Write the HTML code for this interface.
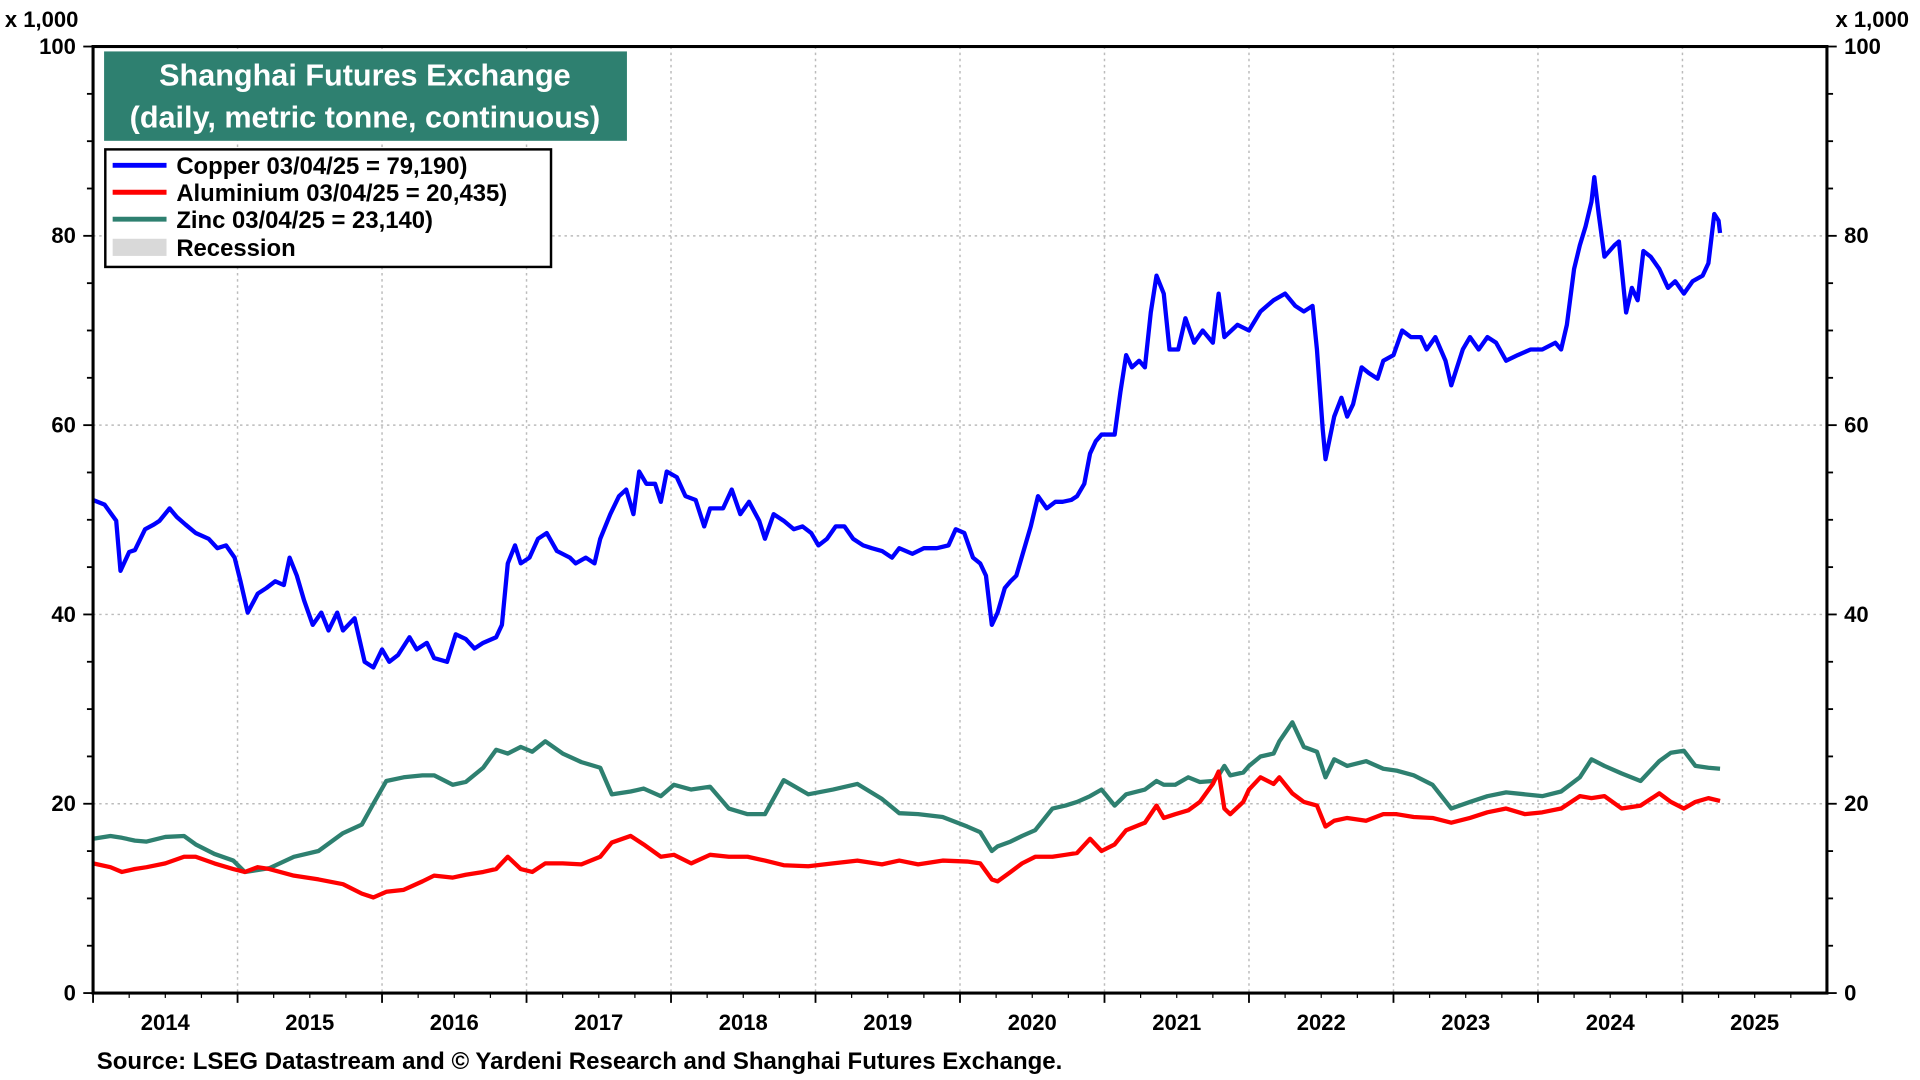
<!DOCTYPE html>
<html><head><meta charset="utf-8"><style>
html,body{margin:0;padding:0;background:#fff;}
svg{display:block;}
text{font-family:"Liberation Sans",Arial,sans-serif;font-weight:bold;fill:#000;}
</style></head><body>
<svg id="chart" width="1920" height="1080" viewBox="0 0 1568 882" preserveAspectRatio="none" xmlns="http://www.w3.org/2000/svg">
<rect x="0" y="0" width="1568" height="882" fill="#fff"/>
<g id="grid"></g>
<g id="series"></g>
<rect x="76" y="38" width="1416" height="773" fill="none" stroke="#000" stroke-width="2.5"/>
<g id="axes"></g>
<text x="4" y="22" font-size="18">x 1,000</text>
<text x="1499" y="22" font-size="18">x 1,000</text>
<g>
<rect x="85" y="42" width="427" height="73" fill="#2e8070"/>
<text x="298" y="70" font-size="25" text-anchor="middle" style="fill:#fff">Shanghai Futures Exchange</text>
<text x="298" y="104" font-size="25" text-anchor="middle" style="fill:#fff">(daily, metric tonne, continuous)</text>
</g>
<g>
<rect x="86" y="122" width="364" height="96" fill="#fff" stroke="#000" stroke-width="2"/>
<g><line x1="92" y1="135" x2="136" y2="135" stroke="#0000ff" stroke-width="4"/><text x="144" y="142" font-size="19.5">Copper 03/04/25 = 79,190)</text></g>
<g><line x1="92" y1="157" x2="136" y2="157" stroke="#ff0000" stroke-width="4"/><text x="144" y="164" font-size="19.5">Aluminium 03/04/25 = 20,435)</text></g>
<g><line x1="92" y1="179" x2="136" y2="179" stroke="#2e8070" stroke-width="4"/><text x="144" y="186" font-size="19.5">Zinc 03/04/25 = 23,140)</text></g>
<g><rect x="92" y="195" width="44" height="14" fill="#d9d9d9"/><text x="144" y="209" font-size="19.5">Recession</text></g>
</g>
<text x="79" y="873" font-size="19.6">Source: LSEG Datastream and © Yardeni Research and Shanghai Futures Exchange.</text>
</svg>
<script>
const yTicks=[0,20,40,60,80,100];
const yearLabels=[2014,2015,2016,2017,2018,2019,2020,2021,2022,2023,2024,2025];
const copperDates=[2014.00,2014.08,2014.16,2014.19,2014.25,2014.29,2014.36,2014.42,2014.46,2014.53,2014.58,2014.64,2014.71,2014.80,2014.86,2014.92,2014.98,2015.02,2015.07,2015.14,2015.20,2015.26,2015.32,2015.36,2015.41,2015.46,2015.52,2015.58,2015.63,2015.69,2015.73,2015.81,2015.88,2015.94,2016.00,2016.05,2016.11,2016.19,2016.24,2016.31,2016.36,2016.45,2016.51,2016.58,2016.64,2016.70,2016.79,2016.83,2016.87,2016.92,2016.96,2017.02,2017.08,2017.14,2017.21,2017.30,2017.34,2017.41,2017.47,2017.51,2017.58,2017.64,2017.69,2017.74,2017.78,2017.83,2017.89,2017.93,2017.97,2018.04,2018.10,2018.17,2018.23,2018.27,2018.36,2018.42,2018.48,2018.54,2018.61,2018.65,2018.71,2018.78,2018.85,2018.91,2018.97,2019.02,2019.08,2019.14,2019.20,2019.26,2019.33,2019.39,2019.46,2019.53,2019.58,2019.67,2019.75,2019.84,2019.92,2019.97,2020.03,2020.09,2020.14,2020.18,2020.22,2020.26,2020.31,2020.35,2020.39,2020.44,2020.49,2020.54,2020.60,2020.66,2020.71,2020.77,2020.81,2020.86,2020.90,2020.94,2020.98,2021.07,2021.11,2021.15,2021.19,2021.24,2021.28,2021.32,2021.36,2021.41,2021.45,2021.51,2021.56,2021.62,2021.68,2021.75,2021.79,2021.83,2021.92,2022.00,2022.08,2022.17,2022.25,2022.32,2022.38,2022.44,2022.47,2022.51,2022.53,2022.59,2022.64,2022.68,2022.72,2022.78,2022.83,2022.89,2022.93,2023.00,2023.06,2023.12,2023.19,2023.23,2023.29,2023.36,2023.40,2023.44,2023.48,2023.53,2023.59,2023.65,2023.71,2023.78,2023.86,2023.95,2024.03,2024.12,2024.16,2024.20,2024.25,2024.29,2024.33,2024.37,2024.39,2024.42,2024.46,2024.53,2024.56,2024.61,2024.65,2024.69,2024.73,2024.78,2024.84,2024.90,2024.95,2025.01,2025.07,2025.14,2025.18,2025.22,2025.25,2025.26];
const copperValues=[52.1,51.6,49.9,44.6,46.6,46.8,49.0,49.5,49.9,51.2,50.3,49.5,48.6,48.0,47.0,47.3,46.0,43.5,40.2,42.2,42.8,43.5,43.1,46.0,44.1,41.5,38.9,40.2,38.3,40.2,38.3,39.6,35.0,34.4,36.3,35.0,35.7,37.6,36.3,37.0,35.4,35.0,37.9,37.4,36.4,37.0,37.6,38.9,45.4,47.3,45.4,46.0,48.0,48.6,46.7,46.0,45.4,46.0,45.4,48.0,50.6,52.5,53.2,50.6,55.1,53.8,53.8,51.9,55.1,54.5,52.5,52.1,49.3,51.2,51.2,53.2,50.6,51.9,49.9,48.0,50.6,49.9,49.0,49.3,48.6,47.3,48.0,49.3,49.3,48.0,47.3,47.0,46.7,46.0,47.0,46.4,47.0,47.0,47.3,49.0,48.6,46.0,45.4,44.1,38.9,40.2,42.8,43.5,44.1,46.7,49.3,52.5,51.2,51.9,51.9,52.1,52.5,53.8,57.0,58.3,59.0,59.0,63.5,67.4,66.1,66.8,66.1,71.9,75.8,73.9,68.0,68.0,71.3,68.7,70.0,68.7,73.9,69.3,70.6,70.0,72.0,73.2,73.9,72.6,72.0,72.6,68.0,59.6,56.4,60.9,62.9,60.9,62.2,66.1,65.5,64.9,66.8,67.4,70.0,69.3,69.3,68.0,69.3,66.8,64.2,66.1,68.0,69.3,68.0,69.3,68.7,66.8,67.4,68.0,68.0,68.7,68.0,70.6,76.5,79.0,81.0,83.6,86.2,82.3,77.8,79.0,79.4,71.9,74.5,73.2,78.4,77.8,76.5,74.5,75.2,73.9,75.2,75.8,77.1,82.3,81.6,80.3];
const baseDates=[2014.00,2014.12,2014.20,2014.29,2014.37,2014.50,2014.63,2014.71,2014.84,2014.97,2015.05,2015.14,2015.22,2015.39,2015.56,2015.73,2015.86,2015.94,2016.03,2016.15,2016.28,2016.36,2016.49,2016.58,2016.70,2016.79,2016.87,2016.96,2017.04,2017.13,2017.25,2017.38,2017.51,2017.59,2017.72,2017.81,2017.93,2018.02,2018.14,2018.27,2018.40,2018.53,2018.65,2018.78,2018.95,2019.12,2019.29,2019.46,2019.58,2019.71,2019.88,2020.05,2020.14,2020.22,2020.26,2020.35,2020.43,2020.52,2020.64,2020.73,2020.81,2020.90,2020.98,2021.07,2021.15,2021.28,2021.36,2021.41,2021.49,2021.58,2021.66,2021.75,2021.79,2021.83,2021.87,2021.96,2022.00,2022.08,2022.17,2022.21,2022.30,2022.38,2022.47,2022.53,2022.59,2022.68,2022.81,2022.93,2023.02,2023.14,2023.27,2023.40,2023.53,2023.65,2023.78,2023.91,2024.03,2024.16,2024.29,2024.37,2024.46,2024.58,2024.71,2024.84,2024.92,2025.01,2025.09,2025.18,2025.26];
const aluminiumValues=[13.7,13.3,12.8,13.1,13.3,13.7,14.4,14.4,13.7,13.1,12.8,13.3,13.1,12.4,12.0,11.5,10.5,10.1,10.7,10.9,11.8,12.4,12.2,12.5,12.8,13.1,14.4,13.1,12.8,13.7,13.7,13.6,14.4,15.9,16.6,15.7,14.4,14.6,13.7,14.6,14.4,14.4,14.0,13.5,13.4,13.7,14.0,13.6,14.0,13.6,14.0,13.9,13.7,12.0,11.8,12.8,13.7,14.4,14.4,14.6,14.8,16.3,15.0,15.7,17.2,18.0,19.8,18.5,18.9,19.3,20.2,22.1,23.4,19.5,18.9,20.2,21.5,22.8,22.1,22.8,21.1,20.2,19.8,17.6,18.2,18.5,18.2,18.9,18.9,18.6,18.5,18.0,18.5,19.1,19.5,18.9,19.1,19.5,20.8,20.6,20.8,19.5,19.8,21.1,20.2,19.5,20.2,20.6,20.3];
const zincValues=[16.3,16.6,16.4,16.1,16.0,16.5,16.6,15.7,14.7,14.0,12.8,13.0,13.2,14.4,15.0,16.9,17.8,20.0,22.4,22.8,23.0,23.0,22.0,22.3,23.8,25.7,25.3,26.0,25.5,26.6,25.3,24.4,23.8,21.0,21.3,21.6,20.8,22.0,21.5,21.8,19.5,18.9,18.9,22.5,21.0,21.5,22.1,20.5,19.0,18.9,18.6,17.6,17.0,15.0,15.5,16.0,16.6,17.2,19.5,19.8,20.2,20.8,21.5,19.8,21.0,21.5,22.4,22.0,22.0,22.8,22.3,22.4,23.0,24.0,23.0,23.3,24.0,25.0,25.3,26.6,28.6,26.0,25.5,22.8,24.7,24.0,24.5,23.7,23.5,23.0,22.0,19.5,20.2,20.8,21.2,21.0,20.8,21.3,22.8,24.7,24.0,23.2,22.4,24.5,25.4,25.6,24.0,23.8,23.7];

const NS='http://www.w3.org/2000/svg';
const L=76,R=1492,T=38,B=811;
function xScale(yr){return L+(yr-2014)*118;}
function yScale(v){return B-(v/100)*(B-T);}
function mk(tag,attrs,parent){const e=document.createElementNS(NS,tag);for(const k in attrs)e.setAttribute(k,attrs[k]);parent.appendChild(e);return e;}
const grid=document.getElementById('grid'),axes=document.getElementById('axes'),series=document.getElementById('series');
yTicks.forEach(v=>{
  const y=yScale(v);
  if(v>0&&v<100){const g=mk('line',{x1:L,x2:R,y1:y,y2:y,stroke:'#bbb','stroke-width':1.2,'stroke-dasharray':'2,3'},grid);
  
  }
  const t1=mk('text',{x:L-14,y:y+6,'font-size':18,'text-anchor':'end'},axes);t1.textContent=v;
  
  
  const t2=mk('text',{x:R+14,y:y+6,'font-size':18,'text-anchor':'start'},axes);t2.textContent=v;
  
  
});
for(let v=0;v<=100;v+=5){const y=yScale(v);const len=(v%20===0)?8:5;
  mk('line',{x1:L-len,x2:L,y1:y,y2:y,stroke:'#000','stroke-width':1.5},axes);
  mk('line',{x1:R,x2:R+len,y1:y,y2:y,stroke:'#000','stroke-width':1.5},axes);}
yearLabels.forEach(yr=>{
  const x0=xScale(yr);
  if(yr>2014){const g=mk('line',{x1:x0,x2:x0,y1:T,y2:B,stroke:'#bbb','stroke-width':1.2,'stroke-dasharray':'2,3'},grid);
  
  }
  mk('line',{x1:x0,x2:x0,y1:B,y2:B+8,stroke:'#000','stroke-width':1.5},axes);
  for(let q=1;q<4;q++){const xq=xScale(yr+q/4);mk('line',{x1:xq,x2:xq,y1:B,y2:B+4,stroke:'#000','stroke-width':1},axes);}
  const t=mk('text',{x:xScale(yr+0.5),y:B+30,'font-size':18,'text-anchor':'middle'},axes);t.textContent=yr;
  
  
});
function line(dates,vals,color,name){
  const d=dates.map((t,i)=>(i?'L':'M')+xScale(t).toFixed(1)+','+yScale(vals[i]).toFixed(1)).join('');
  const p=mk('path',{d:d,fill:'none',stroke:color,'stroke-width':3.5,'stroke-linejoin':'round'},series);
  
  
}
line(baseDates,zincValues,'#2e8070','zinc-line');
line(baseDates,aluminiumValues,'#ff0000','aluminium-line');
line(copperDates,copperValues,'#0000ff','copper-line');
</script>
</body></html>
